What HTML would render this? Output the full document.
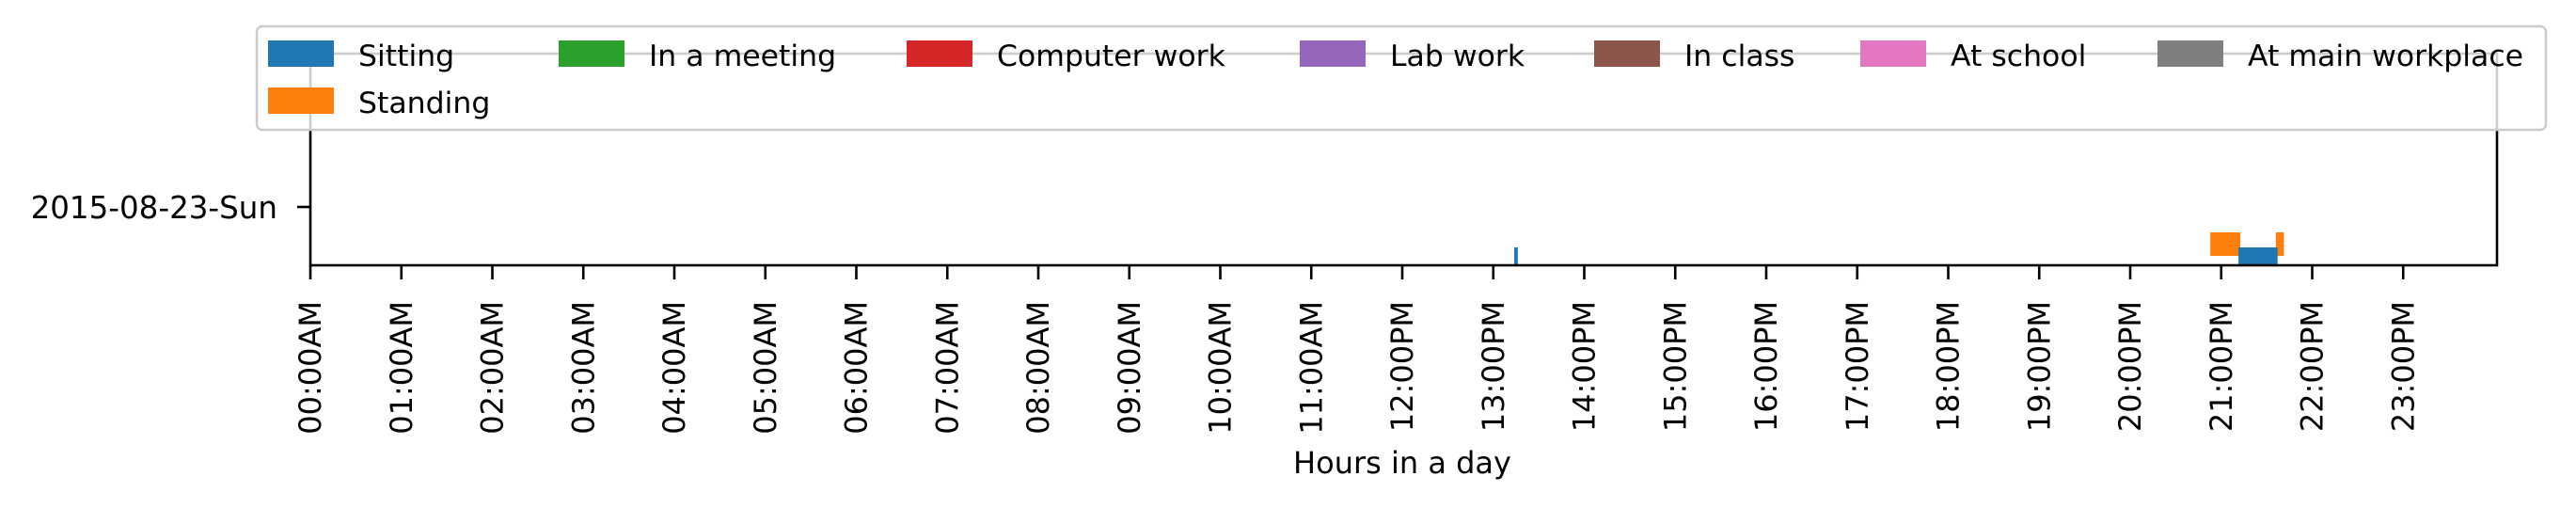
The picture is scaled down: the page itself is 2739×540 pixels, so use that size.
<!DOCTYPE html>
<html><head><meta charset="utf-8"><style>
html,body{margin:0;padding:0;background:#fff;}
svg{display:block;font-family:"DejaVu Sans","Liberation Sans",sans-serif;}
</style></head><body>
<svg id="chart" width="2739" height="540" viewBox="0 0 2739 540">
<g id="marks"></g>
<g id="axes"></g>
<g id="legend"></g>
</svg>
<script>
const hourTicks = [0,1,2,3,4,5,6,7,8,9,10,11,12,13,14,15,16,17,18,19,20,21,22,23];
const hourLabels = ["00:00AM","01:00AM","02:00AM","03:00AM","04:00AM","05:00AM","06:00AM","07:00AM","08:00AM","09:00AM","10:00AM","11:00AM","12:00PM","13:00PM","14:00PM","15:00PM","16:00PM","17:00PM","18:00PM","19:00PM","20:00PM","21:00PM","22:00PM","23:00PM"];
const dayLabels = ["2015-08-23-Sun"];
const legendNames = ["Sitting","In a meeting","Computer work","Lab work","In class","At school","At main workplace","Standing"];
const legendColors = ["#1f77b4","#2ca02c","#d62728","#9467bd","#8c564b","#e377c2","#7f7f7f","#ff7f0e"];
const sittingStarts = [13.23, 21.19];
const sittingEnds = [13.27, 21.62];
const standingStarts = [20.88, 21.60];
const standingEnds = [21.21, 21.69];

const NS="http://www.w3.org/2000/svg";
const X0=330, X1=2655, Y0=57, Y1=282;
const pxPerHour=96.75;
function xs(h){return X0+h*pxPerHour;}
function mk(tag,attrs,parent,text){const e=document.createElementNS(NS,tag);for(const k in attrs)e.setAttribute(k,attrs[k]);if(text!==undefined)e.textContent=text;parent.appendChild(e);return e;}
const marks=document.getElementById('marks'), axes=document.getElementById('axes'), legend=document.getElementById('legend');

function drawBars(starts,ends,color,yTop,yBot,name){
  for(let i=0;i<starts.length;i++){
    const r=mk('rect',{x:xs(starts[i]),y:yTop,width:xs(ends[i])-xs(starts[i]),height:yBot-yTop,fill:color},marks);
    
    
  }
}
drawBars(standingStarts,standingEnds,"#ff7f0e",247,272,'standing');
drawBars(sittingStarts,sittingEnds,"#1f77b4",263,282,'sitting');

const frame=mk('rect',{x:X0,y:Y0,width:X1-X0,height:Y1-Y0,fill:'none',stroke:'#000','stroke-width':2.6},axes);



hourTicks.forEach((h,i)=>{
  const x=xs(h);
  const t=mk('line',{x1:x,y1:Y1,x2:x,y2:Y1+15,stroke:'#000','stroke-width':2.6},axes);
  
  
  const lb=mk('text',{x:0,y:0,'font-size':32,'text-anchor':'end',transform:`translate(${x+11},${Y1+38}) rotate(-90)`},axes,hourLabels[i]);
  
  
});
dayLabels.forEach((d,i)=>{
  const y=220;
  const t=mk('line',{x1:X0-14,y1:y,x2:X0,y2:y,stroke:'#000','stroke-width':2.6},axes);
  
  
  const lb=mk('text',{x:X0-35,y:y+12,'font-size':32.5,'text-anchor':'end'},axes,d);
  
  
});
const xl=mk('text',{x:1491,y:503,'font-size':32,'text-anchor':'middle'},axes,'Hours in a day');



const lbox=mk('rect',{x:273,y:28,width:2434,height:110,rx:6,fill:'#fff','fill-opacity':0.8,stroke:'#cccccc','stroke-width':2.5},legend);


const colX=[285,594,964,1382,1695,1978,2294];
legendNames.forEach((n,i)=>{
  const row=i<7?0:1, col=i<7?i:0;
  const px=colX[col], py=row?93:43;
  const g=mk('g',{},legend);
  
  
  mk('rect',{x:px,y:py,width:70,height:28,fill:legendColors[i]},g);
  mk('text',{x:px+96,y:py+27,'font-size':31.5},g,n);
});
</script>
</body></html>
